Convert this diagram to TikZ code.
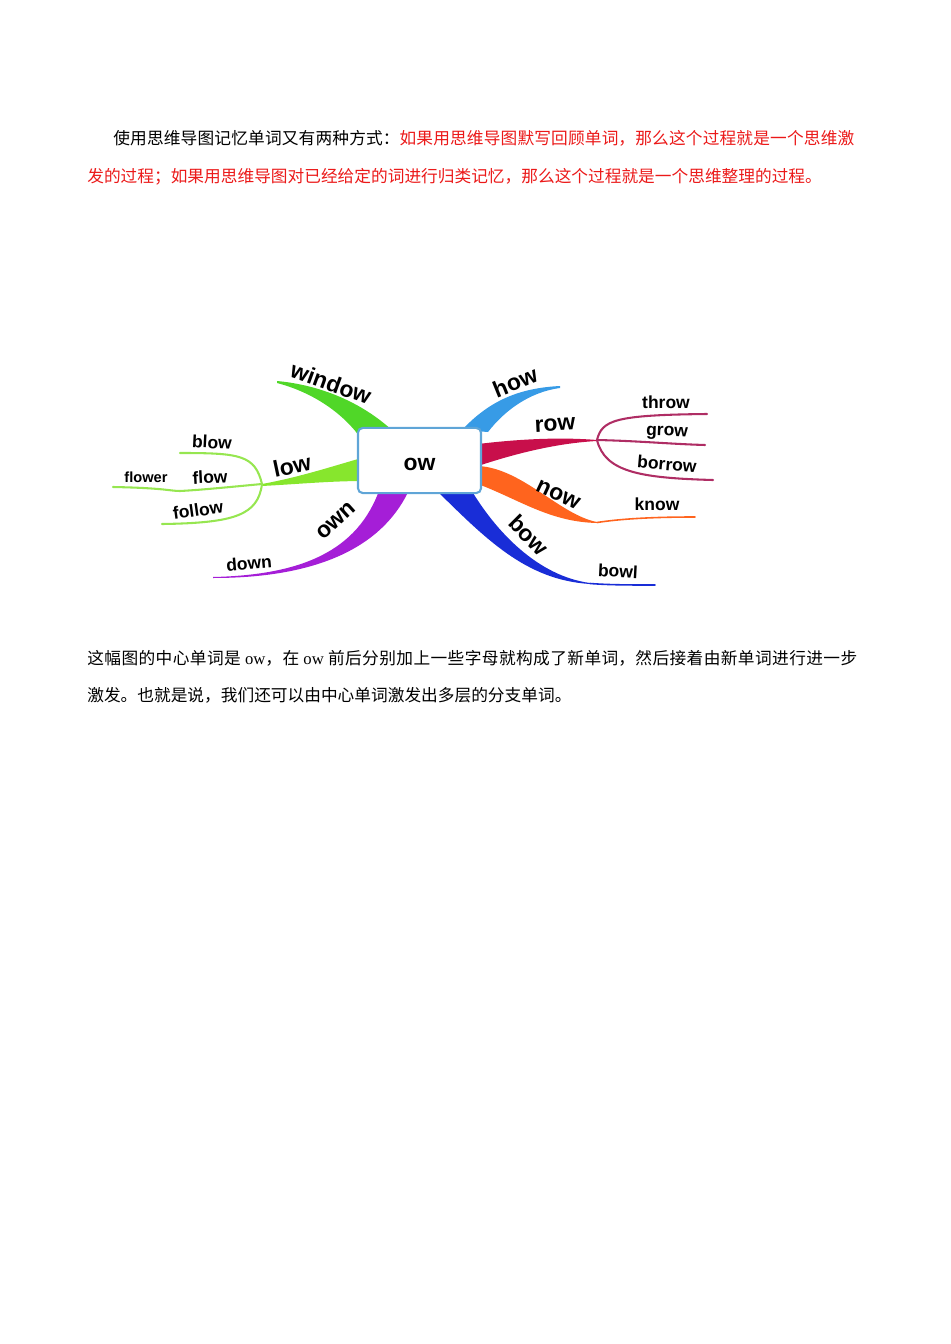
\documentclass[tikz,border=0pt]{standalone}
\usepackage{fontspec}
\setmainfont{Liberation Serif}
\newfontfamily\cjk{Noto Sans CJK SC}
\newfontfamily\mapfont{Liberation Sans}
\XeTeXlinebreaklocale "zh"
\XeTeXlinebreakskip = 0pt plus 1pt
\usetikzlibrary{positioning}

\definecolor{windowgreen}{RGB}{80,215,40}
\definecolor{lowgreen}{RGB}{135,230,45}
\definecolor{twiggreen}{RGB}{150,230,80}
\definecolor{ownpurple}{RGB}{165,30,215}
\definecolor{howblue}{RGB}{55,155,230}
\definecolor{rowred}{RGB}{200,15,75}
\definecolor{twigred}{RGB}{175,45,100}
\definecolor{noworange}{RGB}{255,100,30}
\definecolor{bowblue}{RGB}{25,45,215}
\definecolor{boxblue}{RGB}{95,165,215}
\definecolor{textred}{RGB}{235,25,25}

\begin{document}
\begin{tikzpicture}[
    x=0.22105mm, y=-0.22105mm,
    para/.style={font=\cjk\fontsize{10.5pt}{23pt}\selectfont, inner sep=0pt, anchor=base west},
    fullline/.style={para, align=justify, text width=#1},
    mainword/.style={font=\mapfont\bfseries\fontsize{14.4pt}{16pt}\selectfont, inner sep=0pt},
    subword/.style={font=\mapfont\bfseries\fontsize{11pt}{13pt}\selectfont, inner sep=0pt},
    centerbox/.style={rectangle, draw=boxblue, fill=white, line width=1.3pt, rounded corners=3pt, minimum width=27.2mm, minimum height=14.4mm, text height=12.5pt, text depth=0pt, font=\mapfont\bfseries\fontsize{14.4pt}{16pt}\selectfont},
    twig/.style={line width=1.3pt, line cap=round}
]
\useasboundingbox (0,0) rectangle (950,1344);

% Text above the map
\node[fullline=163.8mm] (introa) at (113,144.5) {\parfillskip=0pt\noindent 使用思维导图记忆单词又有两种方式：\textcolor{textred}{如果用思维导图默写回顾单词，那么这个过程就是一个思维激}\par};
\node[para, text=textred] (introb) at (87,182.5) {发的过程；如果用思维导图对已经给定的词进行归类记忆，那么这个过程就是一个思维整理的过程。};

% Fork points and twig ends
\coordinate (lowfork) at (262,484);
\coordinate (rowfork) at (597,440);
\coordinate (blowend) at (180,453);
\coordinate (flowend) at (180,491);
\coordinate (flowerend) at (113,487);
\coordinate (followend) at (162,524);
\coordinate (throwend) at (707,414);
\coordinate (growend) at (705,445);
\coordinate (borrowend) at (713,480);
\coordinate (nowbend) at (597,522.5);
\coordinate (knowend) at (695,517);
\coordinate (bowbend) at (590,583.5);
\coordinate (bowlend) at (655,585);

% Main branches
\fill[windowgreen] (277,381) .. controls (320,385) and (362,402) .. (394,432) -- (362,440) .. controls (345,415) and (315,393) .. (277,383) -- cycle;
\fill[lowgreen] (lowfork) .. controls (300,477) and (330,467) .. (365,457) -- (365,481) .. controls (330,481) and (300,484) .. (262,486) -- cycle;
\fill[ownpurple] (213,577) .. controls (300,575) and (358,552) .. (380,488) -- (410,488) .. controls (386,542) and (326,578) .. (213,578) -- cycle;
\fill[howblue] (560,386) .. controls (520,388) and (490,400) .. (462,430) -- (488,432) .. controls (505,410) and (530,392) .. (560,388) -- cycle;
\fill[rowred] (rowfork) .. controls (560,437) and (520,439) .. (478,444) -- (478,466) .. controls (520,452) and (560,443) .. (597,441) -- cycle;
\fill[noworange] (597,522) .. controls (560,515) and (522,468) .. (478,466) -- (478,484) .. controls (520,500) and (550,522) .. (597,523) -- cycle;
\fill[bowblue] (590,584) .. controls (525,580) and (485,538) .. (434,488) -- (470,488) .. controls (496,532) and (538,576) .. (590,583) -- cycle;

% Twigs
\draw[twig, twiggreen] (lowfork) .. controls (255,455) and (240,453) .. (blowend);
\draw[twig, twiggreen] (lowfork) .. controls (230,487) and (200,490) .. (flowend) .. controls (170,491) and (165,488) .. (flowerend);
\draw[twig, twiggreen] (lowfork) .. controls (258,515) and (235,523) .. (followend);
\draw[twig, twigred] (rowfork) .. controls (602,420) and (615,415) .. (throwend);
\draw[twig, twigred] (rowfork) .. controls (640,441) and (670,444) .. (growend);
\draw[twig, twigred] (rowfork) .. controls (605,472) and (640,478) .. (borrowend);
\draw[twig, noworange, line width=1pt] (nowbend) .. controls (620,519) and (650,517) .. (knowend);
\draw[twig, bowblue, line width=1pt] (bowbend) .. controls (610,585) and (630,585) .. (bowlend);

% Centre word
\node[centerbox] (ow) at (419.5,460.5) {ow};

% Branch words
\node[mainword, rotate=-20] (window) at (331,383) {window};
\node[mainword, rotate=12] (low) at (292,466) {low};
\node[mainword, rotate=42] (own) at (336,521) {own};
\node[mainword, rotate=22] (how) at (515,382) {how};
\node[mainword, rotate=3] (row) at (555,425) {row};
\node[mainword, rotate=-25] (now) at (558,495) {now};
\node[mainword, rotate=-45] (bow) at (529,535) {bow};

\node[subword, rotate=-3] (blow) at (212,442) {blow};
\node[subword, rotate=3] (flow) at (210,477) {flow};
\node[subword, font=\mapfont\bfseries\fontsize{9.2pt}{11pt}\selectfont] (flower) at (146,477) {flower};
\node[subword, rotate=8] (follow) at (198,510) {follow};
\node[subword, rotate=5] (down) at (249,563) {down};
\node[subword] (throw) at (666,402) {throw};
\node[subword, rotate=-2] (grow) at (667,433) {grow};
\node[subword, rotate=-5] (borrow) at (667,464) {borrow};
\node[subword] (know) at (657,504) {know};
\node[subword, rotate=-3] (bowl) at (618,571) {bowl};

% Text below the map
\node[fullline=170.2mm] (notea) at (87,664) {\parfillskip=0pt\noindent 这幅图的中心单词是 {\rmfamily ow}，在 {\rmfamily ow} 前后分别加上一些字母就构成了新单词，然后接着由新单词进行进一步\par};
\node[para] (noteb) at (87,701) {激发。也就是说，我们还可以由中心单词激发出多层的分支单词。};
\end{tikzpicture}
\end{document}
